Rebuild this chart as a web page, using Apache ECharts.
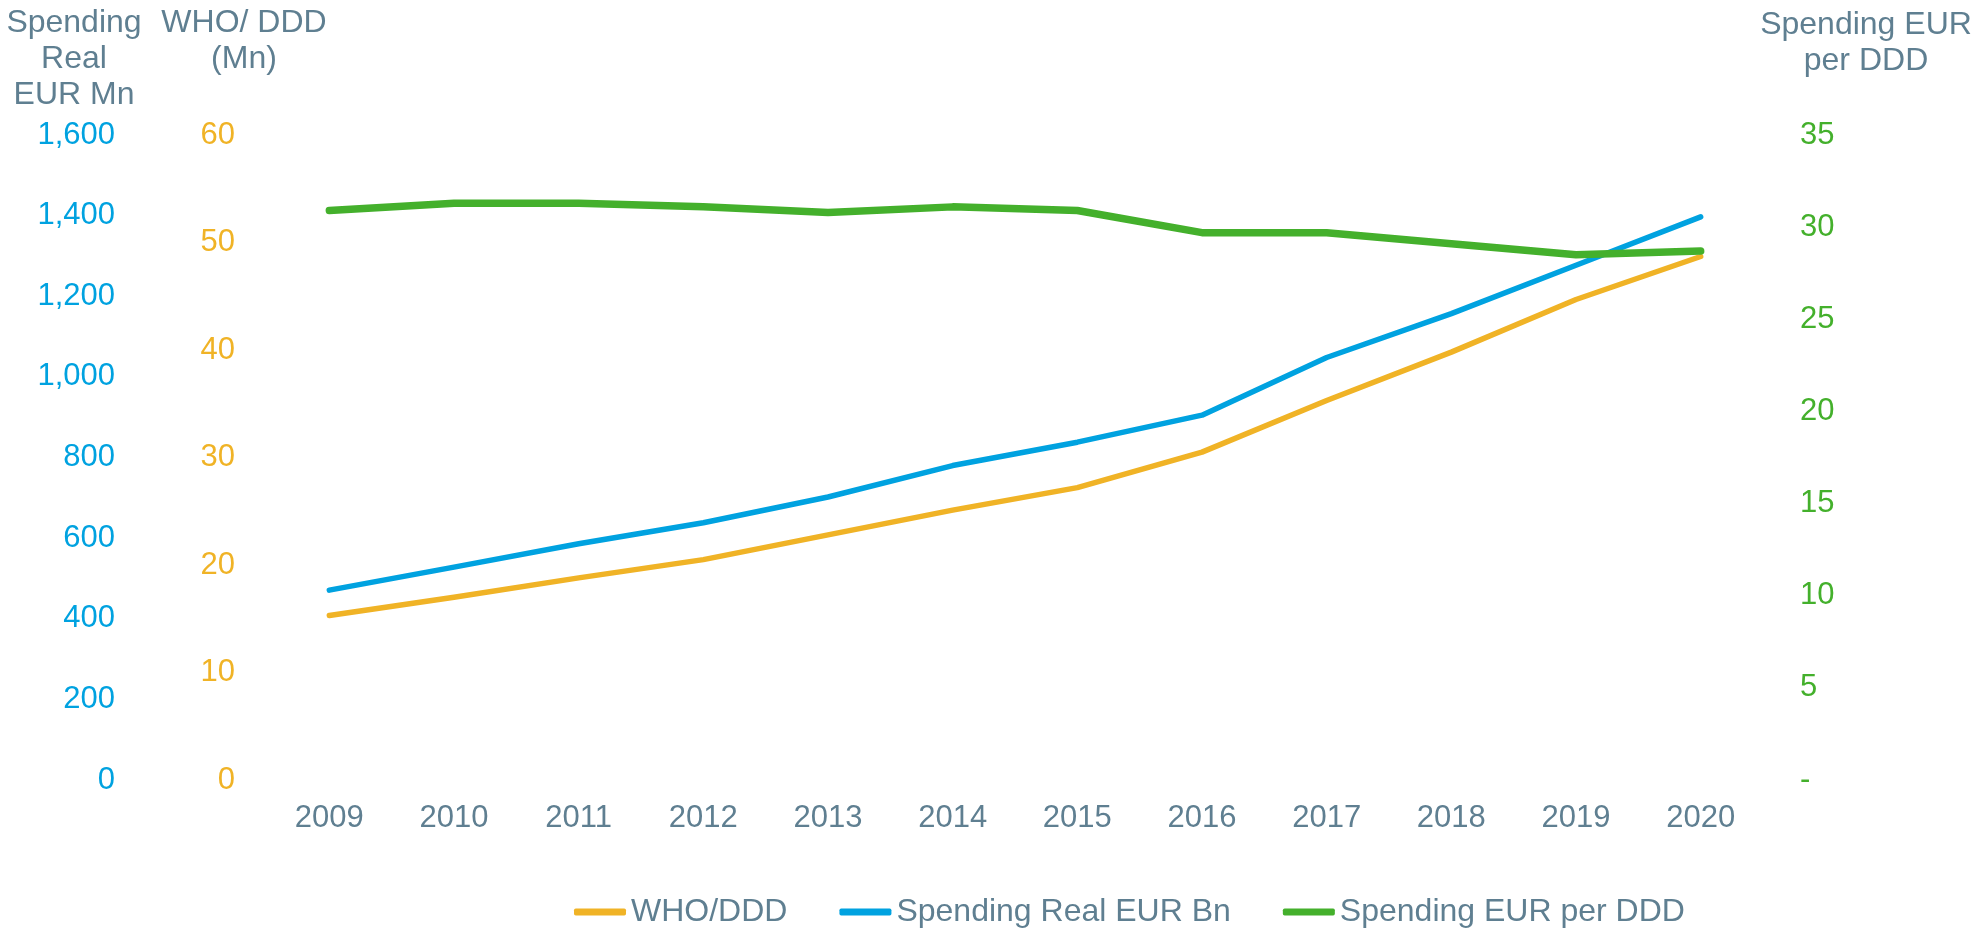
<!DOCTYPE html>
<html>
<head>
<meta charset="utf-8">
<title>Spending and WHO/DDD</title>
<script src="https://cdn.jsdelivr.net/npm/echarts@6/dist/echarts.min.js"></script>
<style>
  html, body { margin: 0; padding: 0; background: #fff; }
  #chart { width: 1972px; height: 937px; }
</style>
</head>
<body>
<div id="chart"></div>
<script>
// data
const years = ["2009", "2010", "2011", "2012", "2013", "2014", "2015", "2016", "2017", "2018", "2019", "2020"];
const whoDdd = [15.3, 17.0, 18.8, 20.5, 22.8, 25.1, 27.2, 30.5, 35.3, 39.8, 44.7, 48.7];
const spendingReal = [471, 528, 586, 638, 702, 780, 838, 905, 1048, 1157, 1277, 1397];
const spendingPerDdd = [30.9, 31.3, 31.3, 31.1, 30.8, 31.1, 30.9, 29.7, 29.7, 29.1, 28.5, 28.7];

const seriesNames = ["WHO/DDD", "Spending Real EUR Bn", "Spending EUR per DDD"];

const FONT = "'Liberation Sans', Arial, sans-serif";
const GREY = "#5f7f91";
const ORANGE = "#f0b326";
const BLUE = "#00a2e0";
const GREEN = "#44b02c";

const myChart = echarts.init(document.getElementById("chart"));

const option = {
  animation: false,
  textStyle: { fontFamily: FONT },
  grid: { left: 267, right: 209, top: 135, bottom: 157 },
  legend: {
    left: 569,
    top: 891,
    itemWidth: 52,
    itemHeight: 7,
    itemGap: 52,
    icon: "roundRect",
    textStyle: { color: GREY, fontSize: 32, fontFamily: FONT },
    data: seriesNames
  },
  graphic: [
    {
      type: "text",
      x: 74,
      y: 5,
      style: {
        text: "Spending\nReal\nEUR Mn",
        textAlign: "center",
        textVerticalAlign: "top",
        fill: GREY,
        font: "32px " + FONT,
        lineHeight: 36
      }
    },
    {
      type: "text",
      x: 244,
      y: 5,
      style: {
        text: "WHO/ DDD\n(Mn)",
        textAlign: "center",
        textVerticalAlign: "top",
        fill: GREY,
        font: "32px " + FONT,
        lineHeight: 36
      }
    },
    {
      type: "text",
      x: 1866,
      y: 7,
      style: {
        text: "Spending EUR\nper DDD",
        textAlign: "center",
        textVerticalAlign: "top",
        fill: GREY,
        font: "32px " + FONT,
        lineHeight: 36
      }
    }
  ],
  xAxis: {
    type: "category",
    data: years,
    axisLine: { show: false },
    axisTick: { show: false },
    splitLine: { show: false },
    axisLabel: { color: GREY, fontSize: 31, margin: 23 }
  },
  yAxis: [
    {
      type: "value",
      position: "left",
      min: 0,
      max: 1600,
      interval: 200,
      axisLine: { show: false },
      axisTick: { show: false },
      splitLine: { show: false },
      axisLabel: {
        color: BLUE,
        fontSize: 31,
        margin: 152,
        formatter: v => v.toLocaleString("en-US")
      }
    },
    {
      type: "value",
      position: "left",
      min: 0,
      max: 60,
      interval: 10,
      axisLine: { show: false },
      axisTick: { show: false },
      splitLine: { show: false },
      axisLabel: { color: ORANGE, fontSize: 31, margin: 32 }
    },
    {
      type: "value",
      position: "right",
      min: 0,
      max: 35,
      interval: 5,
      axisLine: { show: false },
      axisTick: { show: false },
      splitLine: { show: false },
      axisLabel: {
        color: GREEN,
        fontSize: 31,
        margin: 37,
        formatter: v => (v === 0 ? "-" : String(v))
      }
    }
  ],
  series: [
    {
      name: seriesNames[0],
      type: "line",
      yAxisIndex: 1,
      data: whoDdd,
      showSymbol: false,
      itemStyle: { color: ORANGE },
      lineStyle: { width: 5.5, color: ORANGE, cap: "round", join: "round" }
    },
    {
      name: seriesNames[1],
      type: "line",
      yAxisIndex: 0,
      data: spendingReal,
      showSymbol: false,
      itemStyle: { color: BLUE },
      lineStyle: { width: 5.5, color: BLUE, cap: "round", join: "round" }
    },
    {
      name: seriesNames[2],
      type: "line",
      yAxisIndex: 2,
      data: spendingPerDdd,
      showSymbol: false,
      itemStyle: { color: GREEN },
      lineStyle: { width: 7.5, color: GREEN, cap: "round", join: "round" }
    }
  ]
};

myChart.setOption(option);
window.addEventListener("resize", function() {
  myChart.resize();
});
</script>
</body>
</html>
